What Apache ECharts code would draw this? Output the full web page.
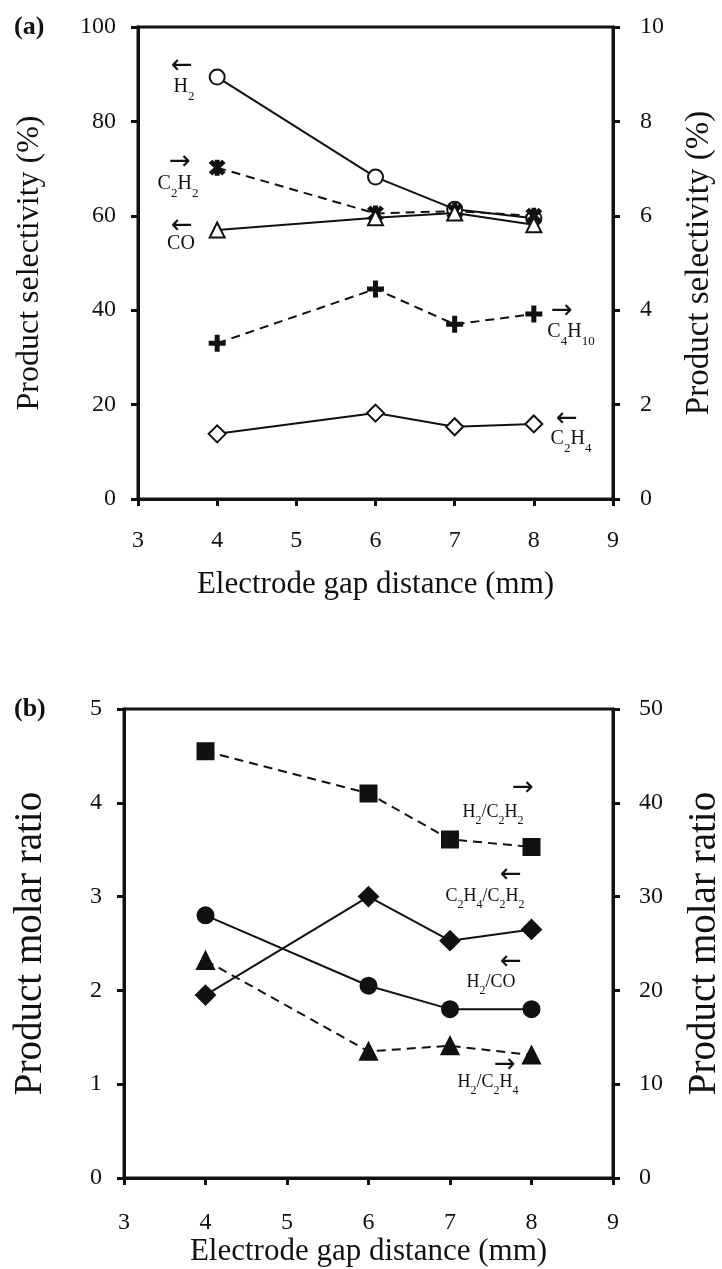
<!DOCTYPE html>
<html>
<head>
<meta charset="utf-8">
<script src="https://cdn.jsdelivr.net/npm/echarts@6/dist/echarts.min.js"></script>
<style>
  html, body { margin: 0; padding: 0; background: #fff; }
  #chart-container { width: 722px; height: 1269px; }
</style>
</head>
<body>
<div id="chart-container"></div>
<script>
// electrode gap distance (mm)
var gap = [4, 6, 7, 8];

// (a) product selectivity
var selH2 = [89.4, 68.2, 61.4, 59.5];     // left axis
var selC2H2 = [7.02, 6.05, 6.1, 6.0];     // right axis
var selCO = [57.0, 59.6, 60.6, 58.1];     // left axis
var selC4H10 = [3.3, 4.45, 3.7, 3.92];    // right axis
var selC2H4 = [13.8, 18.2, 15.3, 15.9];   // left axis

// (b) product molar ratio
var ratioH2C2H2 = [45.5, 41.0, 36.1, 35.3];   // right axis
var ratioC2H4C2H2 = [1.95, 3.0, 2.53, 2.65];  // left axis
var ratioH2CO = [2.8, 2.05, 1.8, 1.8];        // left axis
var ratioH2C2H4 = [23.2, 13.5, 14.1, 13.1];   // right axis

var container = document.getElementById('chart-container');
var myChart = echarts.init(container);

var FONT = '"Liberation Serif", "Times New Roman", serif';
var INK = '#111';

function pairs(xs, ys) {
  return xs.map(function (x, i) { return [x, ys[i]]; });
}

function xAx(gridIndex, margin, nameGap) {
  return {
    type: 'value', gridIndex: gridIndex, min: 3, max: 9, interval: 1,
    name: 'Electrode gap distance (mm)', nameLocation: 'middle', nameGap: nameGap,
    nameTextStyle: { fontFamily: FONT, fontSize: 31, color: INK },
    axisLine: { show: true, onZero: false, lineStyle: { color: INK, width: 3 } },
    axisTick: { show: true, inside: false, length: 7, lineStyle: { color: INK, width: 3 } },
    axisLabel: { fontFamily: FONT, fontSize: 24, color: INK, margin: margin },
    splitLine: { show: false }
  };
}

function yAx(gridIndex, pos, max, interval, name, nameGap, margin, nameSize) {
  return {
    type: 'value', gridIndex: gridIndex, position: pos, min: 0, max: max, interval: interval,
    name: name, nameLocation: 'middle', nameGap: nameGap, nameRotate: 90,
    nameTextStyle: { fontFamily: FONT, fontSize: nameSize, color: INK },
    axisLine: { show: true, lineStyle: { color: INK, width: 3 } },
    axisTick: { show: true, inside: false, length: 7, lineStyle: { color: INK, width: 3 } },
    axisLabel: { fontFamily: FONT, fontSize: 24, color: INK, margin: margin },
    splitLine: { show: false }
  };
}

function line(name, xi, yi, data, symbol, size, dashed) {
  return {
    name: name, type: 'line', xAxisIndex: xi, yAxisIndex: yi,
    data: data, symbol: symbol, symbolSize: size,
    lineStyle: { color: INK, width: 2, type: dashed ? [9, 6] : 'solid' },
    itemStyle: { color: INK, borderColor: INK, borderWidth: 2 },
    z: 3
  };
}

var plusPath = 'path://M4,0H6V4H10V6H6V10H4V6H0V4H4Z';
var starPath = 'path://M8,0H12V20H8Z M0.6,3.4L3.4,0.6L19.4,16.6L16.6,19.4Z M16.6,0.6L19.4,3.4L3.4,19.4L0.6,16.6Z';

function richSet(n, s, lh) {
  return {
    n: { fontFamily: FONT, fontSize: n, lineHeight: lh, verticalAlign: 'top', color: INK },
    s: { fontFamily: FONT, fontSize: s, lineHeight: s, verticalAlign: 'bottom', color: INK }
  };
}
var richA = richSet(20, 13, 26);
var richB = richSet(18, 12, 24);

function tag(x, y, text, rich) {
  return { type: 'text', x: x, y: y, z: 10,
    style: { text: text, rich: rich, fill: INK, align: 'center', verticalAlign: 'middle' } };
}
function arrow(x, y, ch) {
  return { type: 'text', x: x, y: y, z: 10,
    style: { text: ch, font: '26px "DejaVu Sans", sans-serif', fill: INK, align: 'center', verticalAlign: 'middle' } };
}

myChart.setOption({
  backgroundColor: '#fff',
  animation: false,
  grid: [
    { left: 138, right: 109, top: 27, height: 472, outerBoundsMode: 'none', containLabel: false,
      show: true, borderColor: INK, borderWidth: 3, backgroundColor: 'transparent' },
    { left: 124, right: 109, top: 709, height: 469, outerBoundsMode: 'none', containLabel: false,
      show: true, borderColor: INK, borderWidth: 3, backgroundColor: 'transparent' }
  ],
  xAxis: [xAx(0, 30, 70), xAx(1, 33, 58)],
  yAxis: [
    yAx(0, 'left', 100, 20, 'Product selectivity (%)', 92, 22, 32),
    yAx(0, 'right', 10, 2, 'Product selectivity (%)', 70, 27, 33),
    yAx(1, 'left', 5, 1, 'Product molar ratio', 74, 22, 39),
    yAx(1, 'right', 50, 10, 'Product molar ratio', 72, 26, 39)
  ],
  series: [
    line('H2', 0, 0, pairs(gap, selH2), 'emptyCircle', 15, false),
    line('C2H2', 0, 1, pairs(gap, selC2H2), starPath, 14, true),
    line('CO', 0, 0, pairs(gap, selCO), 'emptyTriangle', 15, false),
    line('C4H10', 0, 1, pairs(gap, selC4H10), plusPath, 15, true),
    line('C2H4', 0, 0, pairs(gap, selC2H4), 'emptyDiamond', 17, false),
    line('H2/C2H2', 1, 3, pairs(gap, ratioH2C2H2), 'rect', 16, true),
    line('C2H4/C2H2', 1, 2, pairs(gap, ratioC2H4C2H2), 'diamond', 19, false),
    line('H2/CO', 1, 2, pairs(gap, ratioH2CO), 'circle', 16, false),
    line('H2/C2H4', 1, 3, pairs(gap, ratioH2C2H4), 'triangle', 17, true)
  ],
  graphic: [
    { type: 'text', left: 14, top: 14, style: { text: '(a)', font: 'bold 26px ' + FONT, fill: INK } },
    { type: 'text', left: 14, top: 696, style: { text: '(b)', font: 'bold 26px ' + FONT, fill: INK } },
    // (a) annotations
    arrow(182, 66, '←'), tag(184, 90, '{n|H}{s|2}', richA),
    arrow(180, 162, '→'), tag(178, 187, '{n|C}{s|2}{n|H}{s|2}', richA),
    arrow(182, 226, '←'), tag(181, 247, '{n|CO}', richA),
    arrow(562, 311, '→'), tag(571, 335, '{n|C}{s|4}{n|H}{s|10}', richA),
    arrow(567, 419, '←'), tag(571, 442, '{n|C}{s|2}{n|H}{s|4}', richA),
    // (b) annotations
    arrow(523, 788, '→'), tag(493, 815, '{n|H}{s|2}{n|/C}{s|2}{n|H}{s|2}', richB),
    arrow(511, 875, '←'), tag(485, 899, '{n|C}{s|2}{n|H}{s|4}{n|/C}{s|2}{n|H}{s|2}', richB),
    arrow(511, 962, '←'), tag(491, 985, '{n|H}{s|2}{n|/CO}', richB),
    arrow(505, 1065, '→'), tag(488, 1085, '{n|H}{s|2}{n|/C}{s|2}{n|H}{s|4}', richB)
  ]
});
</script>
</body>
</html>
